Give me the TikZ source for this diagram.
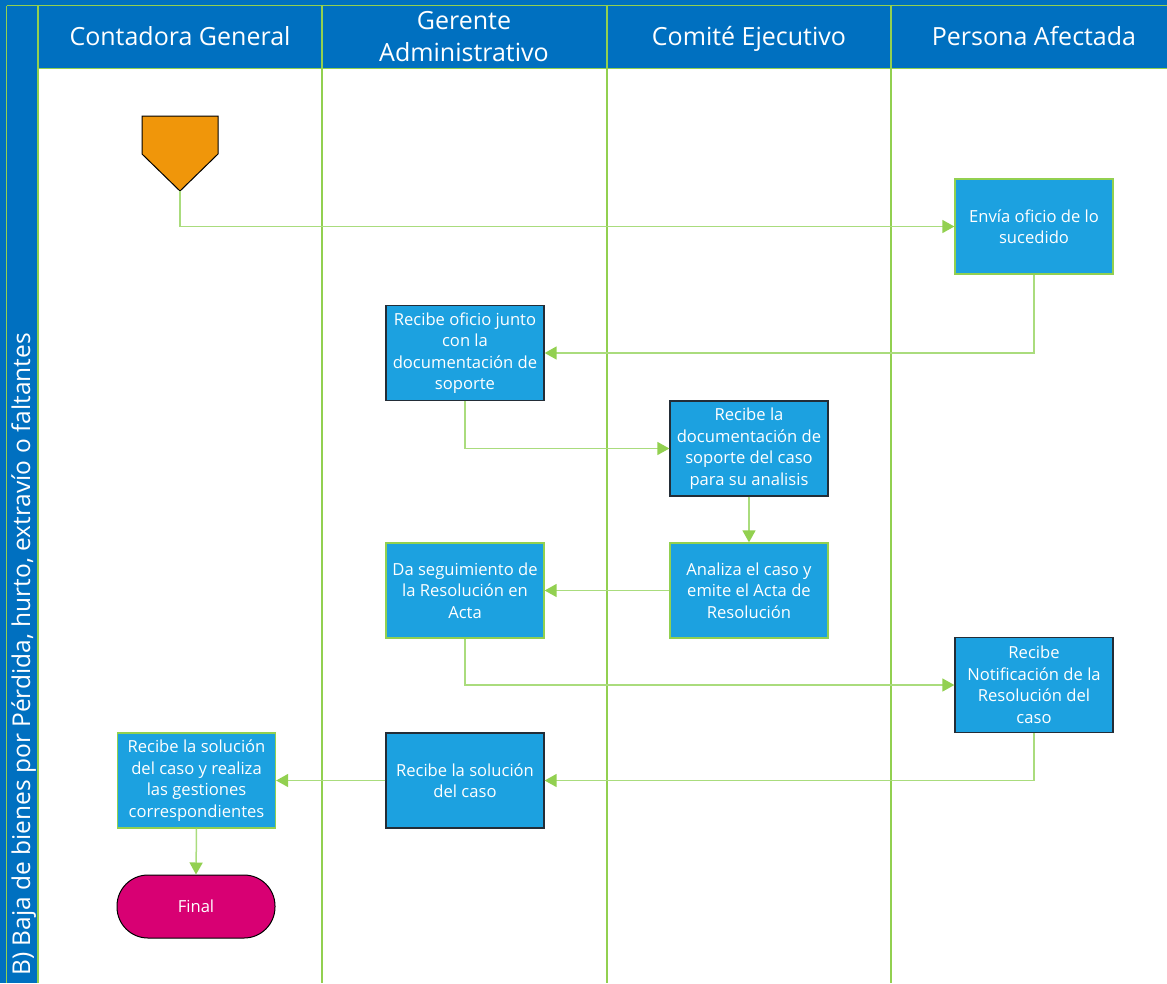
\documentclass[tikz,border=0pt]{standalone}
\usepackage{fontspec}
\setmainfont{Open Sans}
\usetikzlibrary{arrows.meta}
\definecolor{hdrblue}{RGB}{0,112,192}
\definecolor{boxblue}{RGB}{28,161,224}
\definecolor{lanegreen}{RGB}{146,208,80}
\definecolor{linegreen}{RGB}{170,220,125}
\definecolor{darkedge}{RGB}{35,45,55}
\definecolor{startorange}{RGB}{240,150,10}
\definecolor{finalmag}{RGB}{216,0,115}
\tikzset{
  lane/.style={draw=lanegreen, line width=1.5pt},
  hdrtext/.style={text=white, font=\fontsize{25}{32}\selectfont, align=center, inner sep=0pt},
  procbox/.style={rectangle, fill=boxblue, draw=lanegreen, line width=1.3pt, minimum width=158pt, minimum height=95pt, text=white, align=center, inner sep=2pt, font=\fontsize{16.6}{21.5}\selectfont},
  darkbox/.style={procbox, draw=darkedge},
  conn/.style={draw=linegreen, line width=1.5pt, -{Triangle[length=12pt,width=13pt,color=lanegreen,fill=lanegreen]}},
}
\begin{document}
\begin{tikzpicture}[x=1pt,y=-1pt]
\useasboundingbox (0,0) rectangle (1167,983);
% background bands
\fill[hdrblue] (0,0) rectangle (1167,69);
\fill[hdrblue] (0,0) rectangle (38,983);
% lane lines
\draw[lane] (6.5,5.5) -- (1167,5.5);
\draw[lane] (6.5,5.5) -- (6.5,983);
\draw[lane] (38,5.5) -- (38,983);
\draw[lane] (38,68.5) -- (1167,68.5);
\draw[lane] (322,5.5) -- (322,983);
\draw[lane] (607,5.5) -- (607,983);
\draw[lane] (891,5.5) -- (891,983);
% headers
\node[hdrtext, anchor=base] (h1) at (180,45) {Contadora General};
\node[hdrtext] (h2) at (464,37) {Gerente\\Administrativo};
\node[hdrtext, anchor=base] (h3) at (749,45) {Comité Ejecutivo};
\node[hdrtext, anchor=base] (h4) at (1034,45) {Persona Afectada};
\node[hdrtext, rotate=90, anchor=base west, font=\fontsize{24.5}{30}\selectfont] (pool) at (30,976) {B) Baja de bienes por Pérdida, hurto, extravío o faltantes};
% start shape
\draw[fill=startorange, draw=black, line width=1pt] (142,116) -- (218,116) -- (218,154) -- (180,191) -- (142,154) -- cycle;
\coordinate (starttip) at (180,191);
% process boxes
\node[procbox] (env) at (1034,226.5) {Envía oficio de lo\\sucedido};
\node[darkbox] (rof) at (465,353) {Recibe oficio junto\\con la\\documentación de\\soporte};
\node[darkbox] (rdoc) at (749,448.5) {Recibe la\\documentación de\\soporte del caso\\para su analisis};
\node[procbox] (anl) at (749,590.5) {Analiza el caso y\\emite el Acta de\\Resolución};
\node[procbox] (seg) at (465,590.5) {Da seguimiento de\\la Resolución en\\Acta};
\node[darkbox] (rnot) at (1034,685) {Recibe\\Notificación de la\\Resolución del\\caso};
\node[darkbox] (rsol) at (465,780.5) {Recibe la solución\\del caso};
\node[procbox] (rsolg) at (196.5,780.5) {Recibe la solución\\del caso y realiza\\las gestiones\\correspondientes};
\node[rectangle, rounded corners=31pt, fill=finalmag, draw=black, line width=1pt, minimum width=158pt, minimum height=63pt, text=white, font=\fontsize{16.6}{20}\selectfont] (final) at (196,906.5) {Final};
% connectors
\draw[conn] (starttip) |- (env.west);
\draw[conn] (env.south) |- (rof.east);
\draw[conn] (rof.south) |- (rdoc.west);
\draw[conn] (rdoc.south) -- (anl.north);
\draw[conn] (anl.west) -- (seg.east);
\draw[conn] (seg.south) |- (rnot.west);
\draw[conn] (rnot.south) |- (rsol.east);
\draw[conn] (rsol.west) -- (rsolg.east);
\draw[conn] (rsolg.south) -- (final.north);
\end{tikzpicture}
\end{document}
